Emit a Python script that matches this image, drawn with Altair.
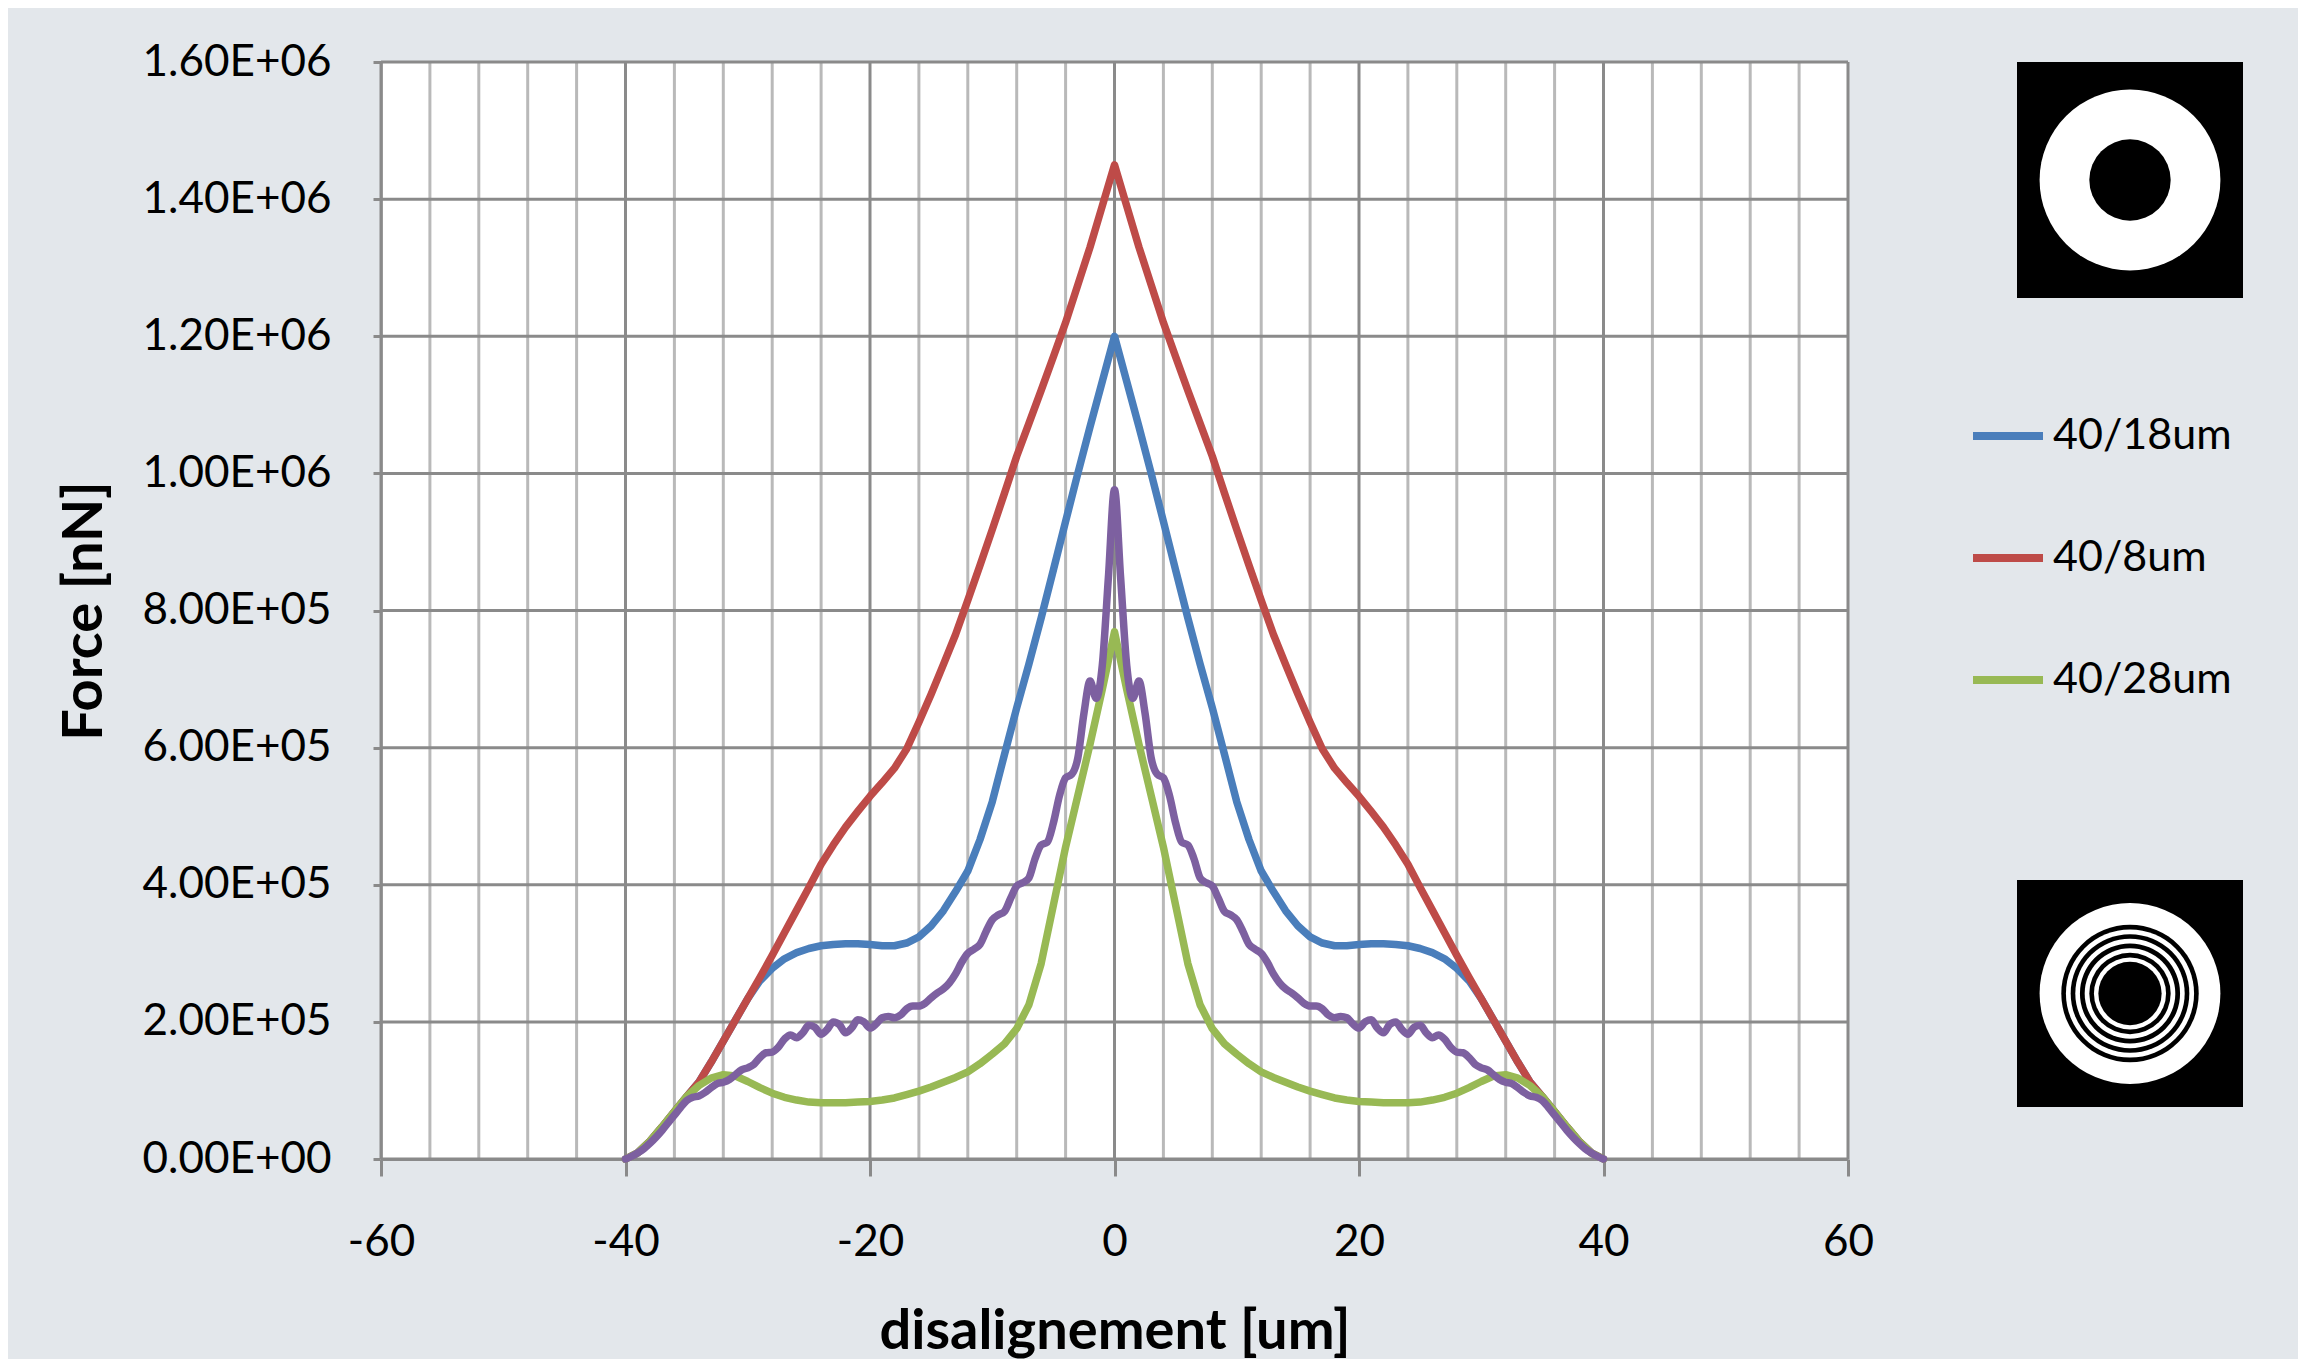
import altair as alt
import pandas as pd

# ---------------- data (force values in thousands of nN) ----------------
x_um = list(range(-40, 41))

f_40_8 = [0, 9, 26, 47, 69, 91, 112, 141, 172, 203, 234, 265, 297, 330, 363, 396, 430, 458, 484, 507,
          529, 549, 570, 598, 637, 678, 721, 765, 815, 866, 918, 971, 1025, 1073, 1121, 1170, 1220, 1275,
          1330, 1390, 1450, 1390, 1330, 1275, 1220, 1170, 1121, 1073, 1025, 971, 918, 866, 815, 765, 721,
          678, 637, 598, 570, 549, 529, 507, 484, 458, 430, 396, 363, 330, 297, 265, 234, 203, 172, 141,
          112, 91, 69, 47, 26, 9, 0]

f_40_18 = [0, 9, 26, 47, 69, 91, 112, 141, 172, 203, 234, 260, 278, 292, 301, 307, 311, 313, 314, 314,
           313, 311, 311, 315, 324, 340, 362, 390, 420, 466, 521, 590, 658, 722, 789, 859, 930, 1000,
           1068, 1134, 1200, 1134, 1068, 1000, 930, 859, 789, 722, 658, 590, 521, 466, 420, 390, 362,
           340, 324, 315, 311, 311, 313, 314, 314, 313, 311, 307, 301, 292, 278, 260, 234, 203, 172, 141,
           112, 91, 69, 47, 26, 9, 0]

f_40_28 = [0, 9, 26, 47, 69, 91, 107, 118, 123, 121, 113, 104, 96, 90, 86, 83, 82, 82, 82, 83,
           84, 86, 89, 94, 99, 105, 112, 119, 127, 139, 153, 168, 190, 225, 285, 370, 455, 530,
           605, 685, 769, 685, 605, 530, 455, 370, 285, 225, 190, 168, 153, 139, 127, 119, 112,
           105, 99, 94, 89, 86, 84, 83, 82, 82, 82, 83, 86, 90, 96, 104, 113, 121, 123, 118,
           107, 91, 69, 47, 26, 9, 0]

x_rings = [v / 2 for v in range(-80, 81)]
f_rings = [0, 4, 9, 15, 23, 32, 42, 53, 64, 75, 85, 90, 92, 97, 104, 110, 112, 116, 123, 130,
           133, 138, 148, 155, 156, 163, 175, 181, 177, 184, 195, 192, 182, 189, 200, 196, 184, 191,
           203, 200, 191, 197, 206, 208, 206, 210, 219, 223, 223, 227, 235, 242, 248, 257, 270, 287,
           300, 306, 313, 332, 349, 356, 361, 380, 398, 403, 410, 438, 458, 462, 490, 530, 556, 561,
           585, 650, 697, 672, 720, 848, 976,
           848, 720, 672, 697, 650, 585, 561, 556, 530, 490, 462, 458, 438, 410, 403, 398, 380, 361,
           356, 349, 332, 313, 306, 300, 287, 270, 257, 248, 242, 235, 227, 223, 223, 219, 210, 206,
           208, 206, 197, 191, 200, 203, 191, 184, 196, 200, 189, 182, 192, 195, 184, 177, 181, 175,
           163, 156, 155, 148, 138, 133, 130, 123, 116, 112, 110, 104, 97, 92, 90, 85, 75, 64, 53, 42,
           32, 23, 15, 9, 4, 0]

series_names = ["40/18um", "40/8um", "40/28um", "40/rings"]
legend_names = ["40/18um", "40/8um", "40/28um"]
series_colors = ["#4A7EBB", "#BE4B48", "#98B954", "#7D60A0"]

x_ticks = [-60, -40, -20, 0, 20, 40, 60]
x_minor = [-56, -52, -48, -44, -36, -32, -28, -24, -16, -12, -8, -4,
           4, 8, 12, 16, 24, 28, 32, 36, 44, 48, 52, 56]
y_ticks = [0, 200000, 400000, 600000, 800000, 1000000, 1200000, 1400000, 1600000]

icon_top_r = [0.80, 0.36]
icon_top_fill = ["white", "black"]
icon_bot_r = [0.80, 0.608, 0.567, 0.525, 0.484, 0.443, 0.401, 0.360, 0.319, 0.280]
icon_bot_fill = ["white", "black", "white", "black", "white", "black", "white", "black", "white", "black"]

# ---------------- tables ----------------
def series_df(name, xs, ks):
    return pd.DataFrame({"x": xs, "y": [k * 1000 for k in ks], "series": name})

df_blue = series_df("40/18um", x_um, f_40_18)
df_red = series_df("40/8um", x_um, f_40_8)
df_green = series_df("40/28um", x_um, f_40_28)
df_purple = series_df("40/rings", x_rings, f_rings)

FONT = "Lato"
GRID_DARK = "#8a8a8a"
GRID_LIGHT = "#b9b9b9"

xscale = alt.Scale(domain=[-60, 60], nice=False, zero=False)
yscale = alt.Scale(domain=[0, 1600000], nice=False)

xaxis = alt.Axis(values=x_ticks, grid=False, title="disalignement [um]", labelExpr="'' + datum.value",
                 labelFont=FONT, labelFontSize=44, labelColor="black", labelPadding=44,
                 labelFlush=False,
                 tickSize=17, tickColor=GRID_DARK, tickWidth=3,
                 domainColor=GRID_DARK, domainWidth=3,
                 titleFont=FONT, titleFontSize=56, titleFontWeight="bold", titleColor="black",
                 titlePadding=40)

ylabel = ("datum.value == 0 ? '0.00E+00' : "
          "format(datum.value / pow(10, floor(log(datum.value) / LN10 + 1e-9)), '.2f') + 'E+' + "
          "(floor(log(datum.value) / LN10 + 1e-9) < 10 ? '0' : '') + "
          "floor(log(datum.value) / LN10 + 1e-9)")

yaxis = alt.Axis(values=y_ticks, grid=False, title="Force [nN]", labelExpr=ylabel,
                 labelFont=FONT, labelFontSize=44, labelColor="black", labelPadding=42,
                 labelLimit=0, labelFlush=False,
                 tickSize=8, tickColor=GRID_DARK, tickWidth=3,
                 domainColor="#a8a8a8", domainWidth=3,
                 titleFont=FONT, titleFontSize=56, titleFontWeight="bold", titleColor="black",
                 titlePadding=68)

X = alt.X("x:Q", scale=xscale, axis=xaxis)
Y = alt.Y("y:Q", scale=yscale, axis=yaxis)

color = alt.Color("series:N",
                  scale=alt.Scale(domain=series_names, range=series_colors),
                  legend=alt.Legend(values=legend_names, orient="none", legendX=1588, legendY=335,
                                    title=None, labelFont=FONT, labelFontSize=43, labelColor="black",
                                    labelLimit=0,
                                    symbolType="stroke", symbolSize=4900, symbolStrokeWidth=8,
                                    rowPadding=61, labelOffset=6))

minor_v = alt.Chart(pd.DataFrame({"x": x_minor})).mark_rule(color=GRID_LIGHT, strokeWidth=3).encode(x=X)
major_v = alt.Chart(pd.DataFrame({"x": x_ticks})).mark_rule(color=GRID_DARK, strokeWidth=3).encode(x=X)
major_h = alt.Chart(pd.DataFrame({"y": y_ticks})).mark_rule(color=GRID_DARK, strokeWidth=3).encode(y=Y)

def line(df, interp):
    return alt.Chart(df).mark_line(strokeWidth=7.5, interpolate=interp, strokeCap="round",
                                   strokeJoin="round").encode(x=X, y=Y, color=color)

main = alt.layer(
    minor_v, major_v, major_h,
    line(df_blue, "linear"), line(df_red, "linear"), line(df_green, "linear"),
    line(df_purple, "monotone"),
).properties(width=1467, height=1097, view=alt.ViewBackground(fill="white", strokeWidth=0))

def icon(rs, fills, w, h):
    d = pd.DataFrame({"r": rs, "fill": fills, "i": list(range(len(rs)))})
    return alt.Chart(d).mark_arc(theta=0, theta2=6.2832).encode(
        radius=alt.Radius("r:Q", stack=None,
                          scale=alt.Scale(type="linear", domain=[0, 1], range=[0, w / 2])),
        fill=alt.Fill("fill:N", scale=None),
        order=alt.Order("i:Q"),
    ).properties(width=w, height=h, view=alt.ViewBackground(fill="black", strokeWidth=0))

icons = alt.vconcat(icon(icon_top_r, icon_top_fill, 226, 236),
                    icon(icon_bot_r, icon_bot_fill, 226, 227), spacing=582
                    ).resolve_scale(radius="independent")

chart = alt.hconcat(main, icons, spacing=169, bounds="flush").properties(
    padding={"left": 48, "top": 32, "right": 55, "bottom": 0}
).configure(background="#e3e7eb").configure_view(strokeWidth=0)

chart.save("out.html", embed_options={"renderer": "svg", "actions": False})
